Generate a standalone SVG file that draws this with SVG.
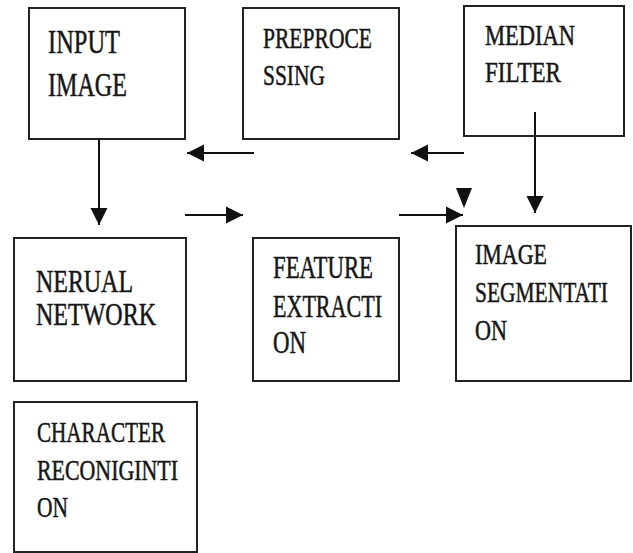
<svg xmlns="http://www.w3.org/2000/svg" width="633" height="553" viewBox="0 0 633 553">
<style>
.box{fill:#fff;stroke:#222;stroke-width:2}
.t{font-family:"Liberation Serif","Times New Roman",serif;fill:#161616;stroke:#161616;stroke-width:0.5}
.ln{stroke:#111;stroke-width:2;fill:none}
.hd{fill:#111}
</style>
<defs>
<marker id="ah" markerUnits="userSpaceOnUse" markerWidth="18" markerHeight="18" refX="17" refY="8.5" orient="auto" viewBox="0 0 18 17">
<path d="M0,0 L17,8.5 L0,17 z" fill="#111"/>
</marker>
</defs>
<rect width="633" height="553" fill="#fff"/>
<g id="input-image">
<rect class="box" x="29" y="8" width="156" height="131"/>
<text class="t" font-size="34"><tspan x="48" y="53" textLength="72" lengthAdjust="spacingAndGlyphs">INPUT</tspan><tspan x="48" y="96" textLength="79" lengthAdjust="spacingAndGlyphs">IMAGE</tspan></text>
</g>
<g id="preprocessing">
<rect class="box" x="243" y="8" width="156" height="131"/>
<text class="t" font-size="30"><tspan x="263" y="48" textLength="109" lengthAdjust="spacingAndGlyphs">PREPROCE</tspan><tspan x="263" y="85" textLength="62" lengthAdjust="spacingAndGlyphs">SSING</tspan></text>
</g>
<g id="median-filter">
<rect class="box" x="464" y="6" width="160" height="130"/>
<text class="t" font-size="30"><tspan x="485" y="45" textLength="90" lengthAdjust="spacingAndGlyphs">MEDIAN</tspan><tspan x="485" y="82" textLength="76" lengthAdjust="spacingAndGlyphs">FILTER</tspan></text>
</g>
<g id="nerual-network">
<rect class="box" x="14" y="238" width="172" height="143"/>
<text class="t" font-size="31"><tspan x="36" y="292" textLength="97" lengthAdjust="spacingAndGlyphs">NERUAL</tspan><tspan x="36" y="325" textLength="120" lengthAdjust="spacingAndGlyphs">NETWORK</tspan></text>
</g>
<g id="feature-extraction">
<rect class="box" x="253" y="238" width="146" height="143"/>
<text class="t" font-size="31"><tspan x="273" y="278" textLength="100" lengthAdjust="spacingAndGlyphs">FEATURE</tspan><tspan x="273" y="317" textLength="109" lengthAdjust="spacingAndGlyphs">EXTRACTI</tspan><tspan x="273" y="353" textLength="33" lengthAdjust="spacingAndGlyphs">ON</tspan></text>
</g>
<g id="image-segmentation">
<rect class="box" x="456" y="226" width="175" height="155"/>
<text class="t" font-size="29"><tspan x="475" y="264" textLength="72" lengthAdjust="spacingAndGlyphs">IMAGE</tspan><tspan x="475" y="340" textLength="32" lengthAdjust="spacingAndGlyphs">ON</tspan></text>
<text class="t" font-size="29" transform="translate(475,302) scale(0.74,1)">SEGMENTATI</text>
</g>
<g id="character-recognition">
<rect class="box" x="14" y="402" width="183" height="150"/>
<text class="t" font-size="29"><tspan x="37" y="442" textLength="128" lengthAdjust="spacingAndGlyphs">CHARACTER</tspan><tspan x="37" y="480" textLength="141" lengthAdjust="spacingAndGlyphs">RECONIGINTI</tspan><tspan x="37" y="517" textLength="31" lengthAdjust="spacingAndGlyphs">ON</tspan></text>
</g>
<g id="connectors">
<line class="ln" x1="99" y1="139" x2="99" y2="225" marker-end="url(#ah)"/>
<line class="ln" x1="254" y1="153" x2="187" y2="153" marker-end="url(#ah)"/>
<line class="ln" x1="185" y1="215" x2="243" y2="215" marker-end="url(#ah)"/>
<line class="ln" x1="464" y1="153" x2="411" y2="153" marker-end="url(#ah)"/>
<line class="ln" x1="535" y1="112" x2="535" y2="213" marker-end="url(#ah)"/>
<line class="ln" x1="399" y1="215" x2="463" y2="215" marker-end="url(#ah)"/>
<path class="hd" d="M456,188 L472,188 L464,208 z"/>
</g>
</svg>
